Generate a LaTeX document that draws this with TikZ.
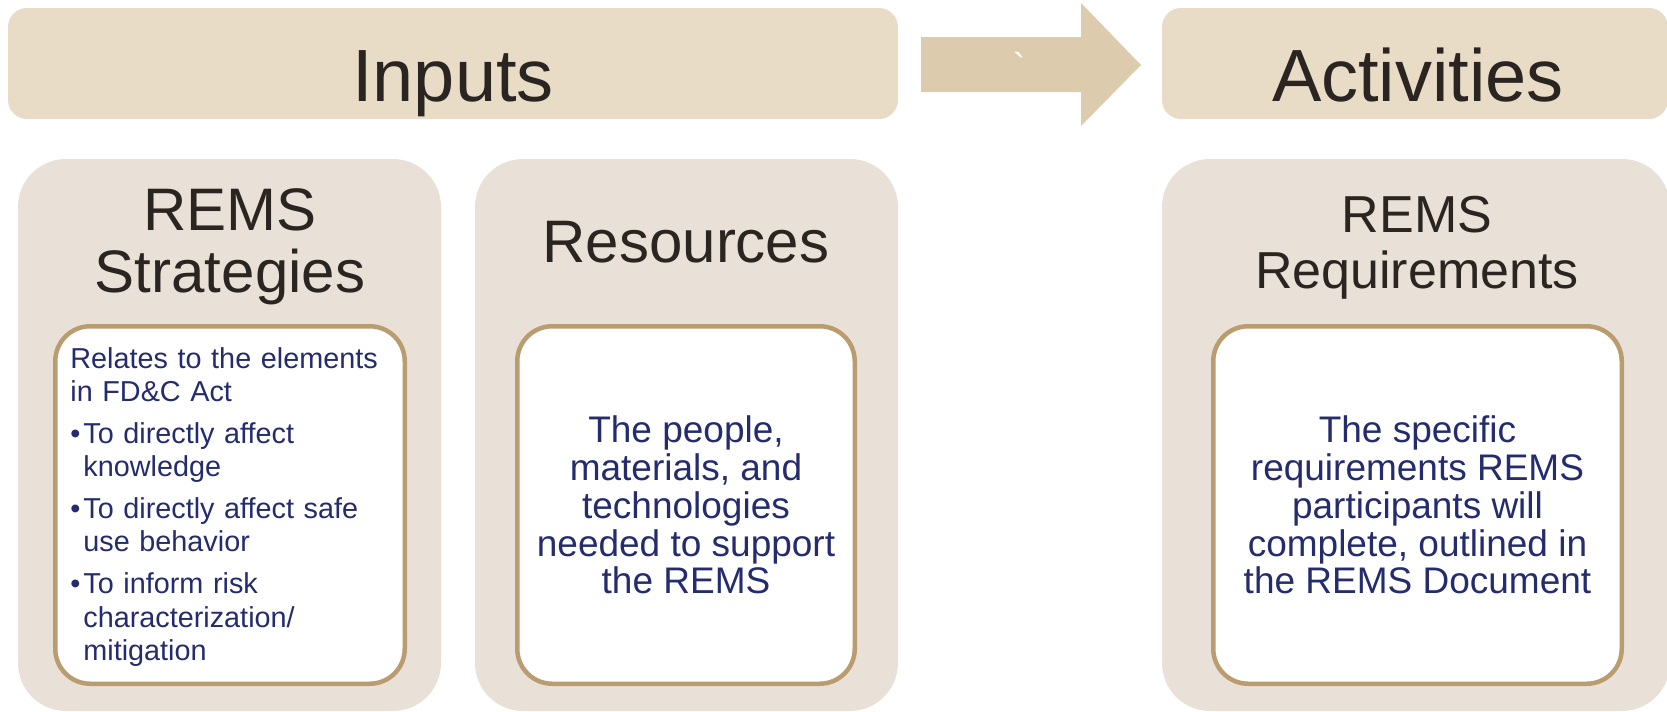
\documentclass[tikz,border=0pt]{standalone}
\usepackage{fontspec}
\setmainfont{Liberation Sans}
\newfontfamily\tickfont{Liberation Sans}[Ligatures=ResetAll]
\definecolor{barfill}{HTML}{E9DCC7}
\definecolor{boxfill}{HTML}{E9E1D7}
\definecolor{arrowfill}{HTML}{DDCBAD}
\definecolor{edgecol}{HTML}{B99C6F}
\definecolor{headcol}{HTML}{2B2522}
\definecolor{bodycol}{HTML}{242C6E}
\newcommand{\bitem}{\hangindent=6.5pt\hangafter=1\makebox[6.5pt][l]{\textbullet}}
\begin{document}
\begin{tikzpicture}[x=0.5pt,y=-0.5pt,
    bar/.style={fill=barfill,rounded corners=9.5pt,minimum height=55.5pt,inner sep=0pt},
    panel/.style={fill=boxfill,rounded corners=24pt,minimum height=276pt,inner sep=0pt},
    card/.style={fill=white,draw=edgecol,line width=2.25pt,rounded corners=17.5pt,minimum height=178.75pt,inner sep=0pt},
    headtxt/.style={text=headcol,font=\fontsize{37}{40}\selectfont,inner sep=0pt,anchor=base},
    titletxt/.style={text=headcol,font=\fontsize{30}{32}\selectfont,inner sep=0pt,anchor=base},
    bodytxt/.style={text=bodycol,font=\fontsize{18.5}{18.9}\selectfont,align=center,inner sep=0pt}]
  \useasboundingbox (0,0) rectangle (1667,712);
  \node[bar,minimum width=445pt] (inputs) at (453,63.5) {};
  \node[bar,minimum width=253pt] (activities) at (1415,63.5) {};
  \fill[arrowfill] (921,37) -- (1081,37) -- (1081,3) -- (1141,65)
    -- (1081,126) -- (1081,92) -- (921,92) -- cycle;
  \node[text=white,font=\tickfont\fontsize{18.5}{20}\selectfont,inner sep=0pt] (tick) at (1019,66) {\symbol{96}};
  \node[headtxt] (inputstxt) at (453,101) {Inputs};
  \node[headtxt] (activitiestxt) at (1418,101) {Activities};

  \node[panel,minimum width=211.5pt] (strategies) at (229.5,435) {};
  \node[panel,minimum width=211.5pt] (resources) at (686.5,435) {};
  \node[panel,minimum width=254pt] (requirements) at (1416,435) {};
  \node[titletxt] (strategiestxt) at (230,230) {REMS};
  \node[titletxt] (strategiestxtb) at (230,292) {Strategies};
  \node[titletxt] (resourcestxt) at (686,262) {Resources};
  \node[titletxt,font=\fontsize{26}{28}\selectfont] (requirementstxt) at (1417,232) {REMS};
  \node[titletxt,font=\fontsize{26}{28}\selectfont] (requirementstxtb) at (1417,288) {Requirements};

  \node[card,minimum width=174.75pt] (strategiescard) at (230,505) {};
  \node[card,minimum width=168.75pt] (resourcescard) at (686,505) {};
  \node[card,minimum width=204.25pt] (requirementscard) at (1417.5,505) {};

  \node[bodytxt,font=\fontsize{14.4}{16.6}\selectfont,text width=170pt,align=left,anchor=north west]
    (strategiesbody) at (70,347) {\parindent=0pt\setlength{\parskip}{4.4pt}%
    Relates to the elements\newline in FD\&C Act\par
    \bitem To directly affect\newline knowledge\par
    \bitem To directly affect safe\newline use behavior\par
    \bitem To inform risk\newline characterization/\newline mitigation\par};
  \node[bodytxt] (resourcesbody) at (resourcescard)
    {The people,\\materials, and\\technologies\\needed to support\\the REMS};
  \node[bodytxt] (requirementsbody) at (requirementscard)
    {The specific\\requirements REMS\\participants will\\complete, outlined in\\the REMS Document};
\end{tikzpicture}
\end{document}
